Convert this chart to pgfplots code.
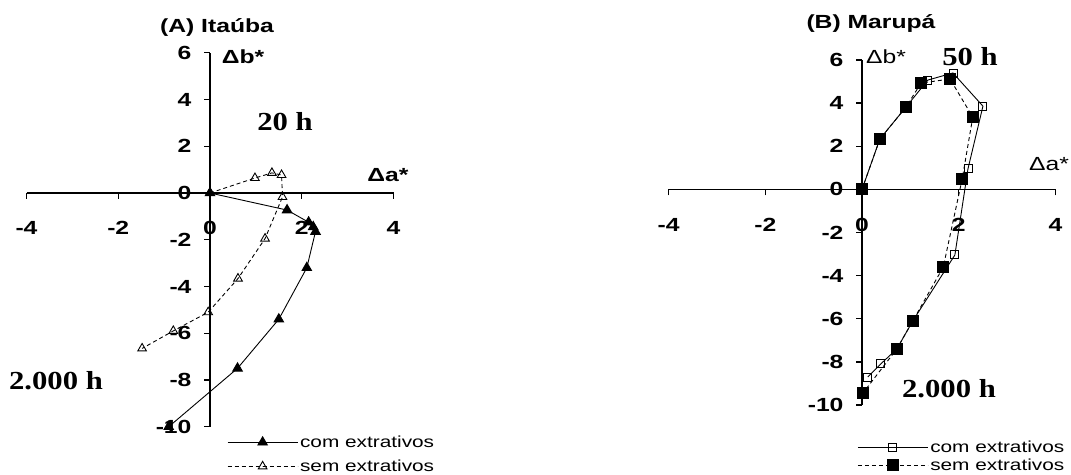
\documentclass[border=0pt]{standalone}
\usepackage{fontspec}
\setmainfont{Liberation Sans}[FakeStretch=1.3]
\newfontfamily\serifwide{Liberation Serif}[FakeStretch=1.18]
\usepackage{pgfplots}
\pgfplotsset{compat=1.18}

\pgfplotsset{
  cielab/.style={
    scale only axis,
    axis lines=middle,
    axis line style={-, line width=1.4pt},
    xmin=-4, xmax=4, ymin=-10, ymax=6,
    xtick={-4,-2,0,2,4}, ytick={-10,-8,...,6},
    hide obscured x ticks=false, hide obscured y ticks=false,
    tick align=outside, major tick length=6pt,
    tick style={line width=1.3pt, black},
    /pgf/number format/assume math mode=true,
    ticklabel style={font=\fontsize{19}{22}\selectfont\bfseries},
    x tick label style={yshift=-19pt},
    y tick label style={xshift=-9pt},
    clip=false,
    legend style={draw=none, fill=none, inner sep=0pt,
      font=\fontsize{16}{19}\selectfont},
    legend cell align=left,
    legend image code/.code={\draw[mark repeat=2,mark phase=2,##1]
      plot coordinates {(0pt,0pt) (35pt,0pt) (70pt,0pt)};},
  },
}

\begin{document}
\begin{tikzpicture}
\path[use as bounding box] (0pt,0pt) rectangle (1071pt,474pt);

% (A) Itauba
\begin{axis}[cielab, at={(210pt,281pt)}, anchor=origin,
    width=367pt, height=374pt,
    legend style={at={(axis cs:0.37,-11.18)}, anchor=west, row sep=7pt}]
\addplot[black, line width=0.9pt, mark=triangle*, mark size=5.5pt] coordinates {
  (0,0) (1.68,-0.73) (2.15,-1.25) (2.25,-1.45) (2.3,-1.65)
  (2.11,-3.2) (1.5,-5.4) (0.6,-7.5) (-0.9,-10.0)
};
\addlegendentry{com extrativos}
\addplot[black, line width=0.9pt, dash pattern=on 4pt off 3pt,
    mark=triangle, mark size=5pt, mark options={solid, fill=white}] coordinates {
  (0,0) (0.98,0.64) (1.35,0.86) (1.56,0.77) (1.58,-0.17)
  (1.2,-1.95) (0.61,-3.66) (-0.04,-5.1) (-0.8,-5.9) (-1.48,-6.65)
};
\addlegendentry{sem extrativos}
\end{axis}

% (B) Marupa
\begin{axis}[cielab, at={(862pt,284.6pt)}, anchor=origin,
    width=387pt, height=345pt,
    legend style={at={(axis cs:-0.10,-12.37)}, anchor=west, row sep=1pt}]
\addplot[black, line width=0.9pt, mark=square, mark size=4pt,
    mark options={fill=white}] coordinates {
  (0,0) (0.37,2.34) (0.91,3.82) (1.36,5.07) (1.88,5.4) (2.5,3.86)
  (2.19,0.95) (1.92,-3.04) (1.05,-6.1) (0.72,-7.4) (0.39,-8.09) (0.12,-8.7)
};
\addlegendentry{com extrativos}
\addplot[black, line width=0.9pt, dash pattern=on 4pt off 3pt,
    mark=square*, mark size=5.5pt, mark options={solid}] coordinates {
  (0,0) (0.37,2.34) (0.91,3.82) (1.22,4.93) (1.82,5.12) (2.29,3.35)
  (2.07,0.48) (1.68,-3.6) (1.05,-6.1) (0.72,-7.4) (0.02,-9.44)
};
\addlegendentry{sem extrativos}
\end{axis}

% annotations
\node[font=\fontsize{19}{22}\selectfont\bfseries] at (217pt,446pt) {(A) Itaúba};
\node[font=\fontsize{19}{22}\selectfont\bfseries] at (243pt,417pt) {Δb*};
\node[font=\fontsize{26}{30}\selectfont\serifwide\bfseries] at (285pt,352pt) {20 h};
\node[font=\fontsize{19}{22}\selectfont\bfseries] at (388pt,299pt) {Δa*};
\node[font=\fontsize{26}{30}\selectfont\serifwide\bfseries] at (56pt,93pt) {2.000 h};

\node[font=\fontsize{19}{22}\selectfont\bfseries] at (871pt,450pt) {(B) Marupá};
\node[font=\fontsize{19}{22}\selectfont] at (886pt,417pt) {Δb*};
\node[font=\fontsize{26}{30}\selectfont\serifwide\bfseries] at (970pt,417pt) {50 h};
\node[font=\fontsize{19}{22}\selectfont] at (1049pt,310pt) {Δa*};
\node[font=\fontsize{26}{30}\selectfont\serifwide\bfseries] at (949pt,85pt) {2.000 h};
\end{tikzpicture}
\end{document}
